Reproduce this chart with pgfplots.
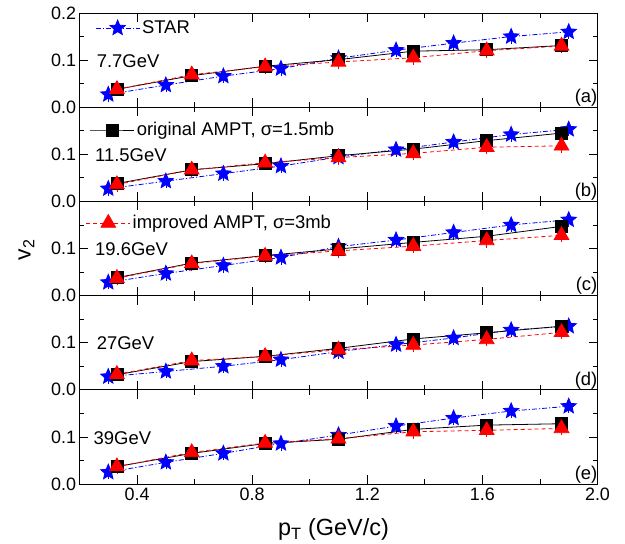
\documentclass[border=0pt]{standalone}
\usepackage{pgfplots}
\pgfplotsset{compat=1.18}
\usepackage{fontspec}
\setmainfont{Liberation Sans}
\usetikzlibrary{plotmarks}

% filled five-pointed star
\pgfdeclareplotmark{fstar}{%
  \pgfpathmoveto{\pgfqpointpolar{90}{\pgfplotmarksize}}%
  \pgfpathlineto{\pgfqpointpolar{126}{0.45\pgfplotmarksize}}%
  \pgfpathlineto{\pgfqpointpolar{162}{\pgfplotmarksize}}%
  \pgfpathlineto{\pgfqpointpolar{198}{0.45\pgfplotmarksize}}%
  \pgfpathlineto{\pgfqpointpolar{234}{\pgfplotmarksize}}%
  \pgfpathlineto{\pgfqpointpolar{270}{0.45\pgfplotmarksize}}%
  \pgfpathlineto{\pgfqpointpolar{306}{\pgfplotmarksize}}%
  \pgfpathlineto{\pgfqpointpolar{342}{0.45\pgfplotmarksize}}%
  \pgfpathlineto{\pgfqpointpolar{18}{\pgfplotmarksize}}%
  \pgfpathlineto{\pgfqpointpolar{54}{0.45\pgfplotmarksize}}%
  \pgfpathclose\pgfusepathqfillstroke}

\tikzset{
  energy/.style={anchor=west, inner sep=0pt, font=\fontsize{18.5}{21}\selectfont},
  tag/.style={anchor=base east, inner sep=0pt, font=\fontsize{18.5}{21}\selectfont},
}

\pgfplotsset{
  panel/.style={
    scale only axis, width=518bp, height=94.2bp,
    xmin=0.2, xmax=2.0, ymin=0, ymax=0.2,
    xtick={0.4,0.8,1.2,1.6,2.0}, minor xtick={0.6,1.0,1.4,1.8},
    ytick={0,0.1}, minor ytick={0.05,0.15},
    xticklabels={},
    major tick length=9bp, minor tick length=5bp,
    tick style={line width=0.8bp, black},
    axis line style={line width=0.8bp},
    tick label style={font=\fontsize{18}{20}\selectfont},
    /pgf/number format/assume math mode=true,
    y tick label style={/pgf/number format/.cd, fixed, fixed zerofill, precision=1},
    legend style={draw=none, fill=none, anchor=west, inner sep=0pt,
      font=\fontsize{18.5}{21}\selectfont, legend cell align=left},
    legend image code/.code={\draw[mark repeat=2,mark phase=2,#1]
      plot coordinates {(0bp,0bp)(22bp,0bp)(44bp,0bp)};},
  },
  ebar/.style={error bars/y dir=both, error bars/y fixed=#1,
    error bars/error bar style={solid, line width=0.6bp}, error bars/error mark=none},
  star/.style={blue, line width=0.8bp, dash pattern=on 5bp off 2bp on 1.2bp off 2bp,
    mark=fstar, mark size=8bp, mark options={solid, fill=blue, draw=blue}, ebar=0.015},
  orig/.style={black, line width=0.8bp, solid,
    mark=square*, mark size=6bp, mark options={solid, fill=black}, ebar=0.01},
  impr/.style={red, line width=0.8bp, dash pattern=on 4bp off 3bp,
    mark=triangle*, mark size=8.5bp, mark options={solid, fill=red, draw=red}, ebar=0.015},
}

\begin{document}
\begin{tikzpicture}
\path[use as bounding box] (-79.5bp,13bp) rectangle (545.5bp,-531bp);

% (a) 7.7 GeV
\begin{axis}[panel, at={(0bp,0bp)}, anchor=north west, ytick={0,0.1,0.2},
  legend style={at={(axis description cs:0.030,0.84)}}]
\addplot[star] coordinates {(0.30,0.027)(0.50,0.047)(0.70,0.066)(0.90,0.082)(1.10,0.104)(1.30,0.121)(1.50,0.136)(1.70,0.150)(1.90,0.160)};
\addlegendentry{STAR}
\addplot[orig, forget plot] coordinates {(0.33,0.038)(0.59,0.067)(0.845,0.087)(1.10,0.101)(1.36,0.119)(1.615,0.122)(1.875,0.131)};
\addplot[impr, forget plot] coordinates {(0.33,0.038)(0.59,0.069)(0.845,0.086)(1.10,0.096)(1.36,0.105)(1.615,0.120)(1.875,0.130)};
\node[energy] at (axis description cs:0.033,0.49) {7.7GeV};
\node[tag] at (axis description cs:1.0,0.05) {(a)};
\end{axis}

% (b) 11.5 GeV
\begin{axis}[panel, at={(0bp,-94.2bp)}, anchor=north west,
  legend style={at={(axis description cs:0.020,0.758)}}]
\addplot[star, forget plot] coordinates {(0.30,0.027)(0.50,0.043)(0.70,0.059)(0.90,0.075)(1.10,0.094)(1.30,0.110)(1.50,0.126)(1.70,0.142)(1.90,0.153)};
\addplot[orig] coordinates {(0.33,0.038)(0.59,0.067)(0.845,0.080)(1.10,0.097)(1.36,0.111)(1.615,0.129)(1.875,0.145)};
\addlegendentry{original AMPT, σ=1.5mb}
\addplot[impr, forget plot] coordinates {(0.33,0.036)(0.59,0.067)(0.845,0.082)(1.10,0.093)(1.36,0.102)(1.615,0.115)(1.875,0.118)};
\node[energy] at (axis description cs:0.030,0.49) {11.5GeV};
\node[tag] at (axis description cs:1.0,0.05) {(b)};
\end{axis}

% (c) 19.6 GeV
\begin{axis}[panel, at={(0bp,-188.4bp)}, anchor=north west,
  legend style={at={(axis description cs:0.012,0.77)}}]
\addplot[star, forget plot] coordinates {(0.30,0.028)(0.50,0.047)(0.70,0.064)(0.90,0.081)(1.10,0.104)(1.30,0.118)(1.50,0.134)(1.70,0.150)(1.90,0.161)};
\addplot[orig, forget plot] coordinates {(0.33,0.038)(0.59,0.069)(0.845,0.085)(1.10,0.099)(1.36,0.113)(1.615,0.126)(1.875,0.147)};
\addplot[impr] coordinates {(0.33,0.037)(0.59,0.068)(0.845,0.084)(1.10,0.095)(1.36,0.105)(1.615,0.117)(1.875,0.128)};
\addlegendentry{improved AMPT, σ=3mb}
\node[energy] at (axis description cs:0.030,0.495) {19.6GeV};
\node[tag] at (axis description cs:1.0,0.05) {(c)};
\end{axis}

% (d) 27 GeV
\begin{axis}[panel, at={(0bp,-282.6bp)}, anchor=north west]
\addplot[star] coordinates {(0.30,0.028)(0.50,0.039)(0.70,0.050)(0.90,0.064)(1.10,0.081)(1.30,0.096)(1.50,0.110)(1.70,0.127)(1.90,0.135)};
\addplot[orig] coordinates {(0.33,0.032)(0.59,0.060)(0.845,0.071)(1.10,0.088)(1.36,0.108)(1.615,0.121)(1.875,0.135)};
\addplot[impr] coordinates {(0.33,0.033)(0.59,0.062)(0.845,0.071)(1.10,0.085)(1.36,0.095)(1.615,0.107)(1.875,0.122)};
\node[energy] at (axis description cs:0.033,0.497) {27GeV};
\node[tag] at (axis description cs:1.0,0.05) {(d)};
\end{axis}

% (e) 39 GeV
\begin{axis}[panel, at={(0bp,-376.8bp)}, anchor=north west,
  xticklabels={0.4,0.8,1.2,1.6,2.0}]
\addplot[star] coordinates {(0.30,0.025)(0.50,0.046)(0.70,0.065)(0.90,0.086)(1.10,0.104)(1.30,0.123)(1.50,0.140)(1.70,0.155)(1.90,0.165)};
\addplot[orig] coordinates {(0.33,0.037)(0.59,0.065)(0.845,0.086)(1.10,0.095)(1.36,0.116)(1.615,0.125)(1.875,0.128)};
\addplot[impr] coordinates {(0.33,0.037)(0.59,0.067)(0.845,0.087)(1.10,0.096)(1.36,0.111)(1.615,0.114)(1.875,0.118)};
\node[energy] at (axis description cs:0.027,0.488) {39GeV};
\node[tag] at (axis description cs:1.0,0.05) {(e)};
\end{axis}

% axis titles
\node[rotate=90, inner sep=0pt, font=\fontsize{23}{26}\selectfont] at (-53bp,-237bp) {v\textsubscript{2}};
\node[anchor=base, inner sep=0pt, font=\fontsize{23.5}{26}\selectfont] at (254bp,-522.5bp) {p\textsubscript{T} (GeV/c)};
\end{tikzpicture}
\end{document}
